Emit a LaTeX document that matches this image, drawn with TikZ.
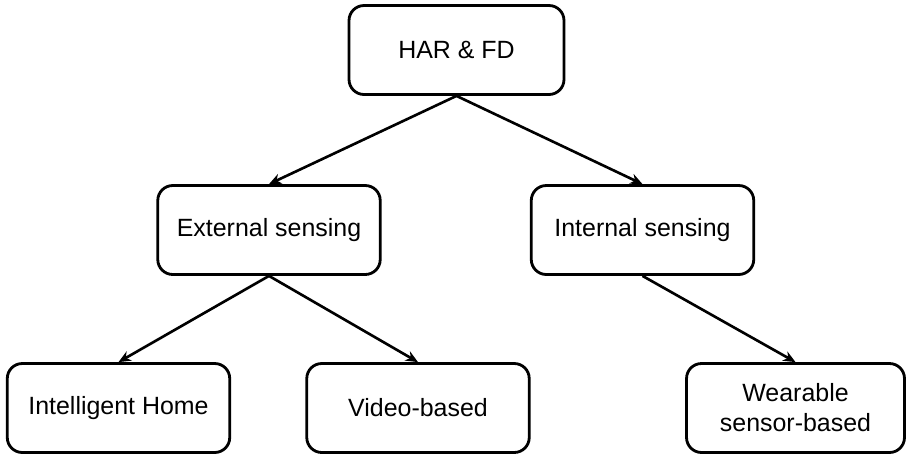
\documentclass[tikz,border=0pt]{standalone}
\usepackage{fontspec}
\setmainfont{Liberation Sans}
\usetikzlibrary{arrows.meta}

\begin{document}
\begin{tikzpicture}[x=0.02cm, y=-0.02cm,
  box/.style={draw, line width=1.6pt, rounded corners=0.3cm,
    minimum width=4.45cm, minimum height=1.78cm, align=center,
    font=\fontsize{14.2}{17}\selectfont},
  link/.style={line width=1.5pt, -{Stealth[length=7pt, width=6pt]}}]

\useasboundingbox (0,0) rectangle (911,457);

\node[box, minimum width=4.3cm] (har) at (456.5,50) {HAR \& FD};
\node[box] (ext) at (269,230) {External sensing};
\node[box] (int) at (642.5,230) {Internal sensing};
\node[box] (home) at (118.5,408) {Intelligent Home};
\node[box] (video) at (418,408) {Video-based};
\node[box, minimum width=4.36cm] (wear) at (795.5,408) {Wearable\\sensor-based};

\draw[link] (har.south) -- (ext.north);
\draw[link] (har.south) -- (int.north);
\draw[link] (ext.south) -- (home.north);
\draw[link] (ext.south) -- (video.north);
\draw[link] (int.south) -- (wear.north);
\end{tikzpicture}
\end{document}
